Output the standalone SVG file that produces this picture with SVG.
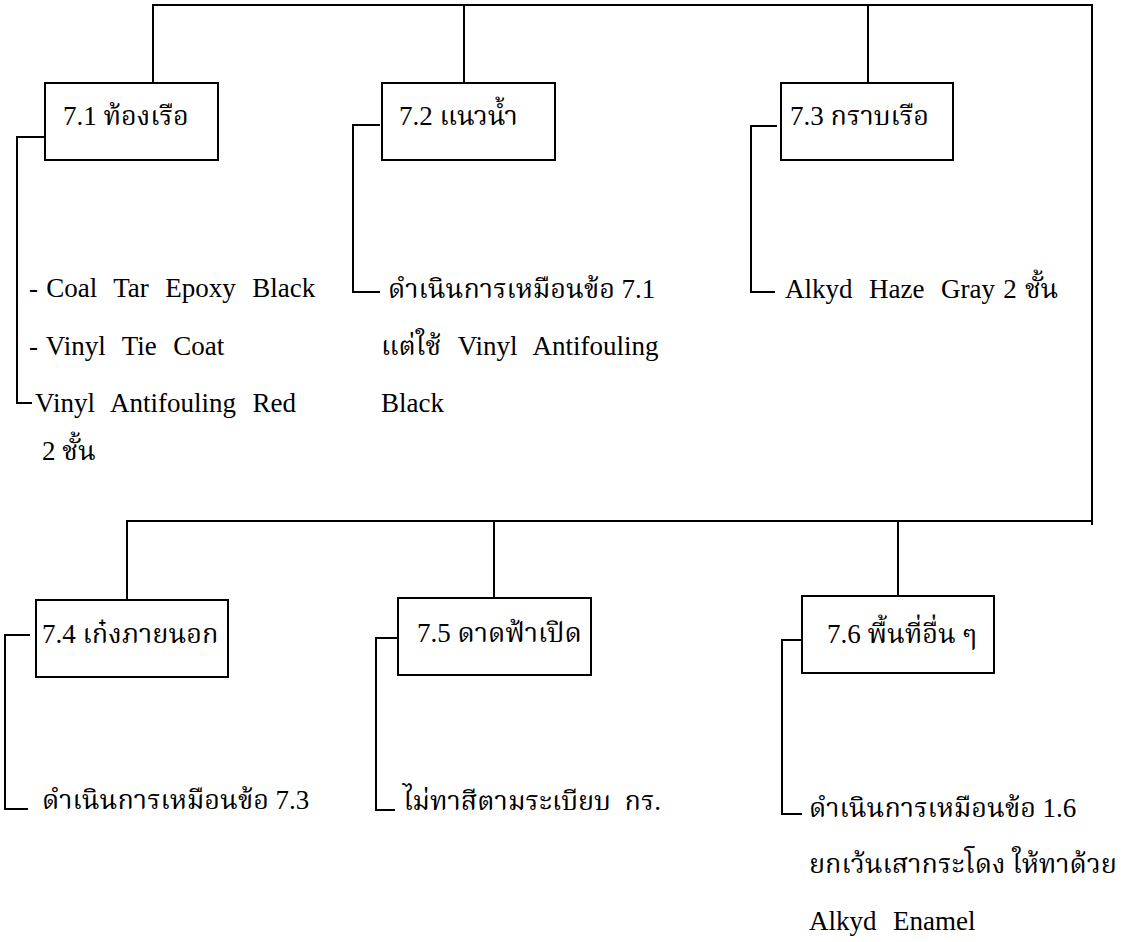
<svg xmlns="http://www.w3.org/2000/svg" width="1135" height="942" viewBox="0 0 1135 942">
  <style>
    .bg { fill: #ffffff; }
    .box { fill: #ffffff; stroke: #000000; stroke-width: 2; }
    .wire { fill: none; stroke: #000000; stroke-width: 2; }
    text { font-family: "Liberation Serif", "Norasi", "Kinnari", "Laksaman", "Noto Serif Thai", "Noto Sans Thai", serif; font-size: 27px; fill: #000000; white-space: pre; }
    .wide { word-spacing: 1.5px; }
  </style>
  <rect class="bg" x="0" y="0" width="1135" height="942"/>

  <!-- connectors -->
  <g id="connectors">
    <path class="wire" d="M153,83 V5 H1092 V525"/>
    <path class="wire" d="M464,5 V83"/>
    <path class="wire" d="M868,5 V83"/>
    <path class="wire" d="M127,600 V521 H1092"/>
    <path class="wire" d="M494,521 V598"/>
    <path class="wire" d="M898,521 V596"/>
    <path class="wire" d="M44,137 H17 V403 H32"/>
    <path class="wire" d="M380,125 H353 V292 H380"/>
    <path class="wire" d="M777,126 H751 V292 H775"/>
    <path class="wire" d="M30,635 H5 V809 H28"/>
    <path class="wire" d="M398,638 H376 V810 H395"/>
    <path class="wire" d="M802,640 H782 V814 H802"/>
  </g>

  <!-- 7.1 -->
  <g id="node-7-1">
    <rect class="box" x="45" y="83" width="173" height="77"/>
    <text x="63" y="125">7.1 ท้องเรือ</text>
    <text class="wide" x="29" y="297" xml:space="preserve">- Coal  Tar  Epoxy  Black</text>
    <text class="wide" x="29" y="355" xml:space="preserve">- Vinyl  Tie  Coat</text>
    <text class="wide" x="35" y="412" xml:space="preserve">Vinyl  Antifouling  Red</text>
    <text x="42" y="460">2 ชั้น</text>
  </g>

  <!-- 7.2 -->
  <g id="node-7-2">
    <rect class="box" x="382" y="83" width="173" height="77"/>
    <text x="399" y="125">7.2 แนวน้ำ</text>
    <text x="388" y="298">ดำเนินการเหมือนข้อ 7.1</text>
    <text class="wide" x="381" y="355" xml:space="preserve">แต่ใช้  Vinyl  Antifouling</text>
    <text x="381" y="412">Black</text>
  </g>

  <!-- 7.3 -->
  <g id="node-7-3">
    <rect class="box" x="781" y="83" width="172" height="77"/>
    <text x="790" y="125">7.3 กราบเรือ</text>
    <text class="wide" x="785" y="298" xml:space="preserve">Alkyd  Haze  Gray 2 ชั้น</text>
  </g>

  <!-- 7.4 -->
  <g id="node-7-4">
    <rect class="box" x="36" y="600" width="192" height="77"/>
    <text x="42" y="643">7.4 เก๋งภายนอก</text>
    <text x="42" y="809">ดำเนินการเหมือนข้อ 7.3</text>
  </g>

  <!-- 7.5 -->
  <g id="node-7-5">
    <rect class="box" x="398" y="598" width="193" height="77"/>
    <text x="417" y="642">7.5 ดาดฟ้าเปิด</text>
    <text x="403" y="810" xml:space="preserve">ไม่ทาสีตามระเบียบ  กร.</text>
  </g>

  <!-- 7.6 -->
  <g id="node-7-6">
    <rect class="box" x="802" y="596" width="192" height="77"/>
    <text x="827" y="643">7.6 พื้นที่อื่น ๆ</text>
    <text x="809" y="817">ดำเนินการเหมือนข้อ 1.6</text>
    <text x="809" y="873">ยกเว้นเสากระโดง ให้ทาด้วย</text>
    <text class="wide" x="809" y="930" xml:space="preserve">Alkyd  Enamel</text>
  </g>
</svg>
